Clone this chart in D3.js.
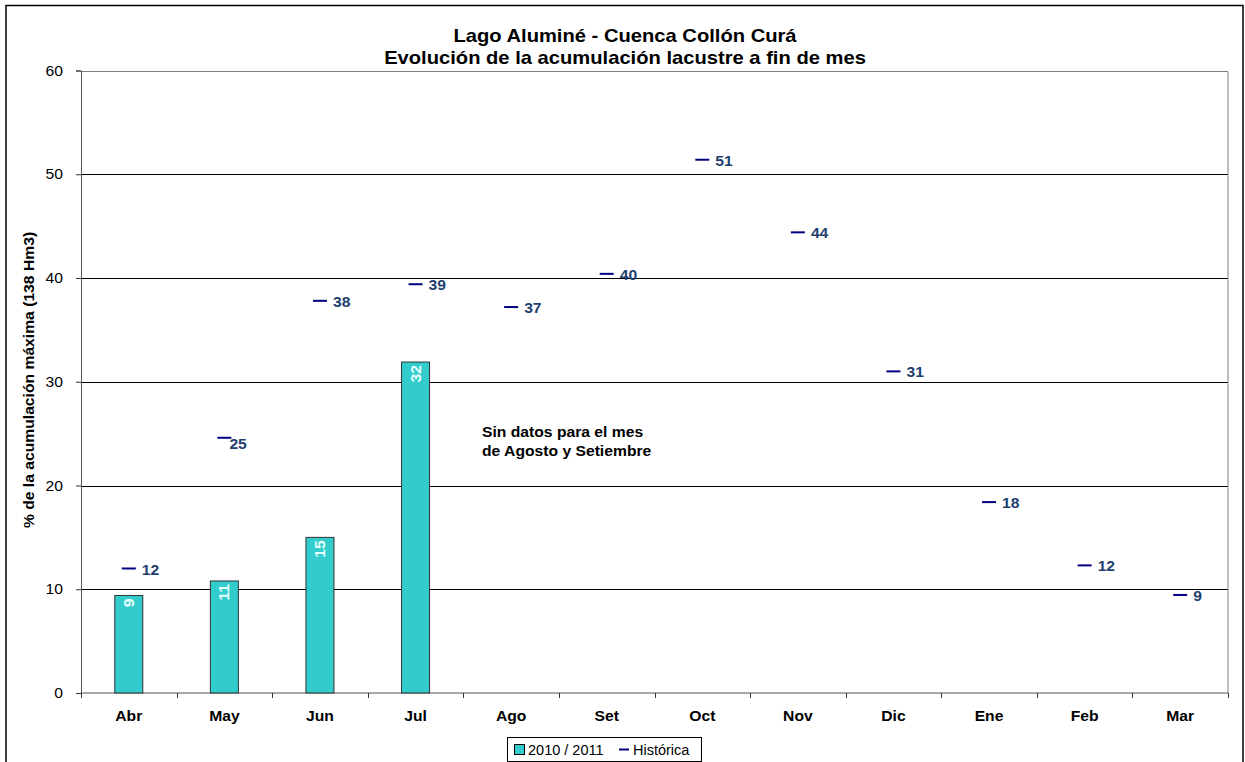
<!DOCTYPE html>
<html>
<head>
<meta charset="utf-8">
<script src="https://cdn.jsdelivr.net/npm/d3@7"></script>
<style>
  html, body { margin: 0; padding: 0; background: #fff; }
  svg { display: block; font-family: "Liberation Sans", Arial, sans-serif; }
</style>
</head>
<body>
<svg id="chart" width="1245" height="762"></svg>
<script>
// Months of the hydrological year
const months = ["Abr", "May", "Jun", "Jul", "Ago", "Set", "Oct", "Nov", "Dic", "Ene", "Feb", "Mar"];
// 2010/2011 season, % of maximum storage (no data from Ago onwards)
const season = [9.4, 10.8, 15.0, 31.9, null, null, null, null, null, null, null, null];
// Historical mean, % of maximum storage
const historic = [12.0, 24.6, 37.8, 39.4, 37.2, 40.4, 51.4, 44.4, 31.0, 18.4, 12.3, 9.45];
const yTicks = [0, 10, 20, 30, 40, 50, 60];
const titleLines = ["Lago Aluminé - Cuenca Collón Curá", "Evolución de la acumulación lacustre a fin de mes"];
const yTitle = "% de la acumulación máxima (138 Hm3)";
const noteLines = ["Sin datos para el mes", "de Agosto y Setiembre"];
const seriesNames = ["2010 / 2011", "Histórica"];

const svg = d3.select("#chart");
const margin = { left: 81, right: 1228, top: 70.5, bottom: 693 };

const x = d3.scaleBand().domain(months).range([margin.left, margin.right]);
const y = d3.scaleLinear().domain([0, 60]).range([margin.bottom, margin.top]);
const fmt = d3.format(".0f");

const barFill = "#33CCCC";
const histColor = "#000080";
const labelBlue = "#1F3F6F";
const WIDE = 1.12; // glyphs are drawn slightly wide

// place text with a horizontal stretch along its baseline
function place(sel, fx, fy, rot) {
  sel.attr("transform", (d, i) =>
    `translate(${fx(d, i)},${fy(d, i)})${rot ? ` rotate(${rot})` : ""} scale(${WIDE},1)`);
  return sel;
}

// outer frame
svg.append("rect")
  .attr("x", 6).attr("y", 5.5).attr("width", 1237).attr("height", 780)
  .attr("fill", "none").attr("stroke", "#000").attr("stroke-width", 1.5);

// title
svg.append("g").selectAll("text").data(titleLines).join("text")
  .call(place, () => 625, (d, i) => 42 + i * 22)
  .attr("text-anchor", "middle")
  .attr("font-size", 18).attr("font-weight", "bold").attr("fill", "#000")
  .text(d => d);

// gridlines
svg.append("g").selectAll("line").data(yTicks.filter(t => t > 0 && t < 60)).join("line")
  .attr("x1", margin.left).attr("x2", margin.right)
  .attr("y1", d => Math.round(y(d)) + 0.5).attr("y2", d => Math.round(y(d)) + 0.5)
  .attr("stroke", "#000").attr("stroke-width", 1);

// plot border top/right
svg.append("path")
  .attr("d", `M${margin.left},${Math.round(y(60)) + 0.5}H${margin.right}V${margin.bottom}`)
  .attr("fill", "none").attr("stroke", "#808080").attr("stroke-width", 1);

// y axis
const yAxis = d3.axisLeft(y).tickValues(yTicks).tickSize(5).tickFormat("");
const gy = svg.append("g").attr("transform", `translate(${margin.left},0)`).call(yAxis);
gy.select(".domain").attr("stroke", "#555");
gy.selectAll(".tick line").attr("stroke", "#333");
svg.append("g").selectAll("text").data(yTicks).join("text")
  .call(place, () => 63, d => y(d) + 5)
  .attr("text-anchor", "end").attr("font-size", 14).attr("fill", "#000")
  .text(d => d);

// x axis: ticks at category boundaries
svg.append("line")
  .attr("x1", margin.left).attr("x2", margin.right)
  .attr("y1", margin.bottom).attr("y2", margin.bottom)
  .attr("stroke", "#555").attr("stroke-width", 1.2);
const bounds = months.map(m => x(m)).concat([margin.right]);
svg.append("g").selectAll("line").data(bounds).join("line")
  .attr("x1", d => Math.round(d) + 0.5).attr("x2", d => Math.round(d) + 0.5)
  .attr("y1", margin.bottom).attr("y2", margin.bottom + 5)
  .attr("stroke", "#333");
svg.append("g").selectAll("text").data(months).join("text")
  .call(place, d => x(d) + x.bandwidth() / 2, () => 721)
  .attr("text-anchor", "middle").attr("font-size", 14).attr("font-weight", "bold")
  .text(d => d);

// y axis title
svg.append("g").selectAll("text").data([yTitle]).join("text")
  .call(place, () => 34, () => 380, -90)
  .attr("text-anchor", "middle").attr("font-size", 14).attr("font-weight", "bold")
  .text(d => d);

// bars
const barW = 28;
const barData = months.map((m, i) => ({ m, v: season[i] })).filter(d => d.v != null);
svg.append("g").selectAll("rect").data(barData).join("rect")
  .attr("x", d => x(d.m) + x.bandwidth() / 2 - barW / 2)
  .attr("y", d => y(d.v))
  .attr("width", barW)
  .attr("height", d => y(0) - y(d.v))
  .attr("fill", barFill).attr("stroke", "#333").attr("stroke-width", 1);
svg.append("g").selectAll("text").data(barData).join("text")
  .call(place, d => x(d.m) + x.bandwidth() / 2 + 5, d => y(d.v) + 3, -90)
  .attr("text-anchor", "end").attr("font-size", 14).attr("font-weight", "bold")
  .attr("fill", "#E8FFFF")
  .text(d => fmt(d.v));

// historical markers
const histData = months.map((m, i) => ({ m, v: historic[i] }));
svg.append("g").selectAll("line").data(histData).join("line")
  .attr("x1", d => x(d.m) + x.bandwidth() / 2 - 7)
  .attr("x2", d => x(d.m) + x.bandwidth() / 2 + 7)
  .attr("y1", d => y(d.v)).attr("y2", d => y(d.v))
  .attr("stroke", histColor).attr("stroke-width", 2);
svg.append("g").selectAll("text").data(histData).join("text")
  .call(place,
    d => x(d.m) + x.bandwidth() / 2 + (d.m === "May" ? 5 : 13),
    d => y(d.v) + (d.m === "May" ? 11 : 6))
  .attr("font-size", 14).attr("font-weight", "bold").attr("fill", labelBlue)
  .text(d => fmt(d.v));

// note
svg.append("g").selectAll("text").data(noteLines).join("text")
  .call(place, () => 482, (d, i) => 437 + i * 19)
  .attr("font-size", 14).attr("font-weight", "bold")
  .text(d => d);

// legend
const lg = svg.append("g");
lg.append("rect").attr("x", 507.5).attr("y", 737.5).attr("width", 194).attr("height", 24)
  .attr("fill", "#fff").attr("stroke", "#000").attr("stroke-width", 1);
lg.append("rect").attr("x", 514.5).attr("y", 744.5).attr("width", 10).attr("height", 10)
  .attr("fill", barFill).attr("stroke", "#000");
lg.append("text").attr("x", 528).attr("y", 755).attr("font-size", 14.5).text(seriesNames[0]);
lg.append("line").attr("x1", 619).attr("x2", 629).attr("y1", 749.5).attr("y2", 749.5)
  .attr("stroke", histColor).attr("stroke-width", 2);
lg.append("text").attr("x", 633).attr("y", 755).attr("font-size", 14.5).text(seriesNames[1]);
</script>
</body>
</html>
